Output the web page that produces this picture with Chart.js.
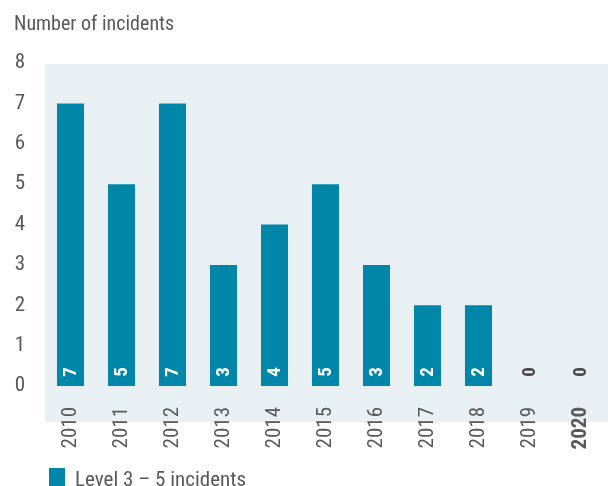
<!DOCTYPE html>
<html>
<head>
<meta charset="utf-8">
<script src="https://cdn.jsdelivr.net/npm/chart.js@4"></script>
<style>
  html, body { margin:0; padding:0; background:#fff; }
  #wrap { width:608px; height:486px; position:relative; }
</style>
</head>
<body>
<div id="wrap"><canvas id="c"></canvas></div>
<script>
// ── data ─────────────────────────────────────────────
const years     = ["2010","2011","2012","2013","2014","2015","2016","2017","2018","2019","2020"];
const incidents = [7, 5, 7, 3, 4, 5, 3, 2, 2, 0, 0];
const seriesLabel = "Level 3 – 5 incidents";
const chartTitle  = "Number of incidents";

// ── style ────────────────────────────────────────────
const FONT    = "'Roboto Condensed', 'Roboto', sans-serif";
const TEXT    = "#595959";
const BAR     = "#0086a8";
const PANEL   = "#e8f0f3";

// panel background, runs a bit under the axis
const panelPlugin = {
    id: "panel",
    beforeDraw(c) {
        const { ctx, chartArea } = c;
        ctx.save();
        ctx.fillStyle = PANEL;
        ctx.fillRect(chartArea.left, chartArea.top + 1, c.width - chartArea.left, chartArea.bottom + 35 - chartArea.top);
        ctx.restore();
    }
};

// value labels at the foot of each bar
const valuePlugin = {
    id: "values",
    afterDatasetsDraw(c) {
        const { ctx, scales } = c;
        const meta = c.getDatasetMeta(0);
        const y0 = scales.y.getPixelForValue(0);
        ctx.save();
        ctx.font = "bold 19px " + FONT;
        ctx.textAlign = "center";
        ctx.textBaseline = "middle";
        meta.data.forEach((bar, i) => {
            const v = incidents[i];
            ctx.save();
            ctx.translate(bar.x, y0 - 14);
            ctx.rotate(-Math.PI / 2);
            ctx.fillStyle = v > 0 ? "#ffffff" : "#4a4a4a";
            ctx.fillText(String(v), 0, 1);
            ctx.restore();
        });
        ctx.restore();
    }
};

// legend drawn by hand so it can sit at the very bottom
const legendPlugin = {
    id: "bottomLegend",
    afterDraw(c) {
        const { ctx } = c;
        const ds = c.data.datasets[0];
        ctx.save();
        ctx.fillStyle = ds.backgroundColor;
        ctx.fillRect(49, 468, 16, 20);
        ctx.fillStyle = TEXT;
        ctx.font = "21px " + FONT;
        ctx.textBaseline = "alphabetic";
        ctx.fillText(ds.label, 75, 486);
        ctx.restore();
    }
};

new Chart(document.getElementById("c"), {
    type: "bar",
    data: {
        labels: years,
        datasets: [{
            label: seriesLabel,
            data: incidents,
            backgroundColor: BAR,
            barPercentage: 0.53,
            categoryPercentage: 1.0,
        }]
    },
    options: {
        responsive: true,
        maintainAspectRatio: false,
        animation: false,
        layout: { padding: { left: 14, right: 2, top: 7, bottom: 0 } },
        scales: {
            x: {
                grid: { display: false, drawTicks: false },
                border: { display: false },
                ticks: {
                    color: TEXT,
                    minRotation: 90, maxRotation: 90,
                    padding: 21,
                    autoSkip: false,
                    font: (ctx) => ({ family: FONT, size: 21, weight: ctx.index === 10 ? "bold" : "normal" }),
                },
                afterFit: (axis) => { axis.height = 100; axis.paddingLeft = 0; axis.paddingRight = 0; },
            },
            y: {
                min: 0, max: 8,
                grid: { display: false, drawTicks: false },
                border: { display: false },
                ticks: { stepSize: 1, color: TEXT, padding: 20, font: { family: FONT, size: 21 } },
                afterFit: (axis) => { axis.width = 31; },
            },
        },
        plugins: {
            legend: { display: false },
            tooltip: { enabled: false },
            title: {
                display: true,
                text: chartTitle,
                align: "start",
                color: TEXT,
                font: { family: FONT, size: 20, weight: "normal" },
                padding: { top: 6, bottom: 26 },
            },
        },
    },
    plugins: [panelPlugin, valuePlugin, legendPlugin],
});
</script>
</body>
</html>
